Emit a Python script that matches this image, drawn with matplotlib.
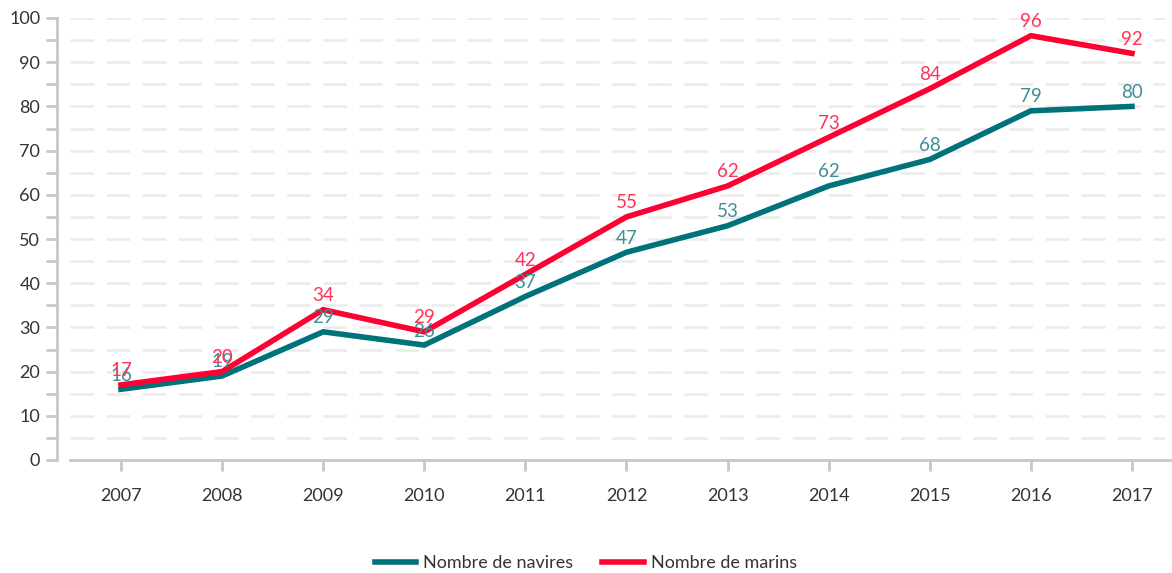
import matplotlib.pyplot as plt

years = [2007, 2008, 2009, 2010, 2011, 2012, 2013, 2014, 2015, 2016, 2017]
navires = [16, 19, 29, 26, 37, 47, 53, 62, 68, 79, 80]
marins = [17, 20, 34, 29, 42, 55, 62, 73, 84, 96, 92]

TEAL = "#00727a"
RED = "#ff0033"
TEAL_TXT = "#3e8f95"
RED_TXT = "#ff3358"
AXIS_GREY = "#c8c8c8"
TXT = "#333333"

plt.rcParams["font.family"] = ["Lato", "DejaVu Sans"]

fig = plt.figure(figsize=(11.72, 5.73), dpi=100)
ax = fig.add_axes([57 / 1172, 1 - 460 / 573, 1 - 57 / 1172, (460 - 18) / 573])

ax.set_xlim(2006.367, 2017.396)
ax.set_ylim(0, 100)

# dashed grid every 5
grid_y = list(range(5, 101, 5))
ax.hlines(grid_y, 2006.5, 2017.33, colors="#ececec", linewidth=2,
          linestyles=(0, (8.5, 4.5)), zorder=0)

ax.plot(years, navires, color=TEAL, linewidth=4, solid_joinstyle="miter",
        label="Nombre de navires", zorder=3)
ax.plot(years, marins, color=RED, linewidth=4, solid_joinstyle="miter",
        label="Nombre de marins", zorder=4)

for x, v in zip(years, navires):
    ax.annotate(str(v), (x, v), xytext=(0, 4), textcoords="offset points",
                ha="center", va="bottom", color=TEAL_TXT, fontsize=13.5,
                zorder=5)
for x, v in zip(years, marins):
    ax.annotate(str(v), (x, v), xytext=(0, 4), textcoords="offset points",
                ha="center", va="bottom", color=RED_TXT, fontsize=13.5,
                zorder=5)

for s in ["top", "right"]:
    ax.spines[s].set_visible(False)
ax.spines["left"].set_color(AXIS_GREY)
ax.spines["left"].set_linewidth(2)
ax.spines["left"].set_bounds(0, 100)
ax.spines["bottom"].set_color(AXIS_GREY)
ax.spines["bottom"].set_linewidth(2)
ax.spines["bottom"].set_bounds(2006.5, 2017.4)
ax.spines["bottom"].set_position(("data", 0))

ax.set_yticks(range(0, 101, 10))
ax.set_yticks(range(5, 100, 10), minor=True)
ax.set_xticks(years)
ax.tick_params(axis="y", which="both", direction="out", length=8, width=2,
               color=AXIS_GREY, labelsize=13, labelcolor=TXT, pad=4)
ax.tick_params(axis="x", direction="out", length=8, width=2,
               color=AXIS_GREY, labelsize=13, labelcolor=TXT, pad=12)

leg = fig.legend(loc="center", bbox_to_anchor=(0.5, 1 - 563 / 573), ncol=2,
                 frameon=False, fontsize=13, handlelength=2.3, handletextpad=0.4,
                 columnspacing=1.6)
for t in leg.get_texts():
    t.set_color(TXT)

fig.savefig("out.png", dpi=100)
